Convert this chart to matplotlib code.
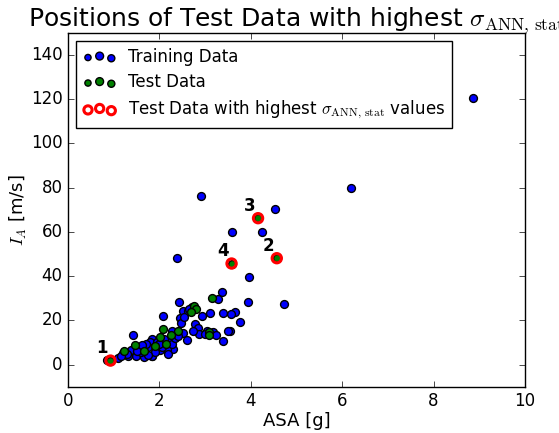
import matplotlib
matplotlib.use('Agg')
import matplotlib.pyplot as plt
from matplotlib.legend_handler import HandlerPathCollection

plt.style.use('classic')
plt.rcParams['mathtext.fontset'] = 'cm'
plt.rcParams['savefig.facecolor'] = 'white'
plt.rcParams['figure.facecolor'] = 'white'

# training data (ASA [g], I_A [m/s])
train_asa = [8.87, 6.19, 2.91, 4.54, 3.60, 4.24, 2.38, 3.97, 3.38, 3.29,
             3.95, 4.73, 2.42, 2.71, 2.52, 3.65, 3.57, 3.11, 3.39, 2.93,
             2.09, 2.45, 2.47, 3.76, 2.79, 2.85, 3.54, 3.51, 3.18, 3.05,
             2.87, 2.74, 2.52, 2.60, 3.39, 2.27, 1.83, 2.25, 2.30, 2.16,
             1.95, 1.79, 0.85, 1.10, 1.21, 1.43, 1.39, 1.49, 1.66, 1.76,
             1.83, 2.01, 2.23, 1.32, 1.67, 1.84, 2.28, 1.55, 1.60, 1.70,
             1.95, 2.05, 1.50, 1.30, 1.15, 2.10, 2.20, 1.90, 2.62, 2.55,
             3.00, 3.25, 2.65, 2.35, 1.75, 1.62, 2.00, 2.40]
train_ia = [120.5, 80.0, 76.4, 70.4, 60.0, 60.1, 48.4, 39.8, 33.0, 29.5,
            28.5, 27.6, 28.3, 26.2, 24.4, 23.9, 22.8, 23.5, 23.5, 22.1,
            22.1, 20.9, 19.0, 19.3, 18.2, 16.7, 15.3, 15.3, 14.9, 15.3,
            13.8, 15.2, 14.4, 11.1, 10.7, 15.2, 11.6, 9.6, 6.9, 6.9,
            6.6, 10.4, 2.1, 2.9, 5.1, 13.4, 6.6, 3.9, 6.6, 8.1,
            4.0, 6.6, 10.4, 3.9, 3.6, 3.9, 9.3, 8.0, 5.5, 9.5,
            10.0, 8.0, 6.0, 5.0, 4.0, 11.5, 5.0, 5.5, 24.0, 21.5,
            14.0, 13.5, 25.0, 12.0, 4.5, 9.0, 9.5, 13.0]

# test data
test_asa = [3.16, 2.76, 2.81, 2.69, 3.09, 3.09, 2.41, 2.07, 2.01, 2.25,
            2.14, 1.90, 1.23, 1.47, 1.67, 0.93, 4.57, 4.16, 3.58]
test_ia = [30.3, 26.5, 25.2, 23.9, 14.9, 13.4, 15.2, 16.0, 12.6, 13.4,
           9.3, 8.4, 6.2, 8.9, 6.2, 1.8, 48.1, 66.2, 45.7]

# test data with highest sigma_ANN,stat
high_asa = [0.93, 4.57, 4.16, 3.58]
high_ia = [1.8, 48.1, 66.2, 45.7]
high_labels = ['1', '2', '3', '4']

fig = plt.figure(figsize=(5.59, 4.33), dpi=100)
ax = fig.add_axes([0.1216, 0.107, 0.8174, 0.817])

s1 = ax.scatter(train_asa, train_ia, s=32, c='b', edgecolors='k', label='Training Data')
s2 = ax.scatter(test_asa, test_ia, s=32, c='g', edgecolors='k', label='Test Data')
s3 = ax.scatter(high_asa, high_ia, s=45, facecolors='none', edgecolors='r', linewidths=2.2,
                label=r'Test Data with highest $\sigma_{\rm ANN,\,stat}$ values')

for x, y, t in zip(high_asa, high_ia, high_labels):
    ax.text(x - 0.19, y + 5.5, t, fontsize=12, fontweight='bold', ha='center', va='center')

ax.set_xlim(0, 10)
ax.set_ylim(-10, 150)
ax.set_xticks([0, 2, 4, 6, 8, 10])
ax.set_yticks([0, 20, 40, 60, 80, 100, 120, 140])
ax.set_xlabel('ASA [g]', fontsize=13, labelpad=1)
ax.set_ylabel(r'$I_A$ [m/s]', fontsize=13, labelpad=1)
ax.set_title(r'Positions of Test Data with highest $\sigma_{\rm ANN,\,stat}$', fontsize=18)

hm = {s1: HandlerPathCollection(sizes=[20, 32, 26]),
      s2: HandlerPathCollection(sizes=[20, 32, 26]),
      s3: HandlerPathCollection(sizes=[35, 35, 35])}
ax.legend(loc='upper left', scatterpoints=3, fontsize=12, labelspacing=0.45,
          handletextpad=0.7, handler_map=hm)

fig.savefig('out.png', dpi=100)
